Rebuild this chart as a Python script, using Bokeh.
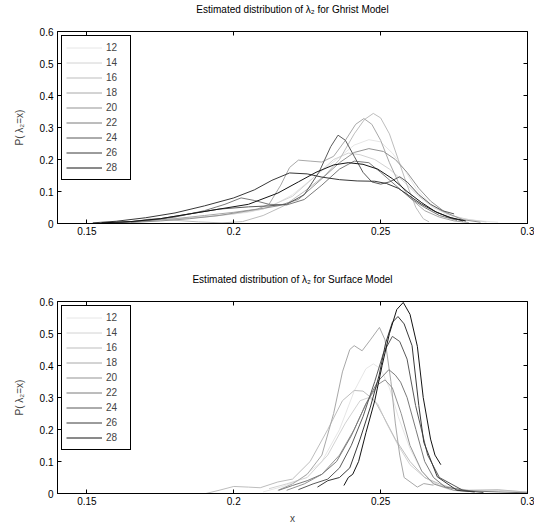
from bokeh.plotting import figure
from bokeh.layouts import column
from bokeh.models import Range1d, LinearAxis, FixedTicker, CustomJSTickFormatter
from bokeh.embed import file_html
from bokeh.resources import INLINE

# ---------------- data ----------------
labels = ["12", "14", "16", "18", "20", "22", "24", "26", "28"]
x_ticks = [0.15, 0.2, 0.25, 0.3]
y_ticks = [0, 0.1, 0.2, 0.3, 0.4, 0.5, 0.6]

# Ghrist model
g12_x = [0.155, 0.165, 0.175, 0.185, 0.195, 0.205, 0.212, 0.22, 0.228, 0.235, 0.241, 0.246, 0.25, 0.254, 0.258, 0.262, 0.267, 0.272, 0.278, 0.284, 0.29]
g12_y = [0.002, 0.006, 0.012, 0.018, 0.025, 0.035, 0.05, 0.09, 0.15, 0.2, 0.245, 0.262, 0.255, 0.22, 0.17, 0.11, 0.06, 0.03, 0.015, 0.008, 0.004]
g14_x = [0.16, 0.17, 0.18, 0.19, 0.2, 0.21, 0.22, 0.228, 0.234, 0.239, 0.243, 0.248, 0.253, 0.258, 0.263, 0.268, 0.274, 0.28, 0.286]
g14_y = [0.003, 0.008, 0.014, 0.02, 0.03, 0.045, 0.085, 0.15, 0.2, 0.22, 0.215, 0.2, 0.17, 0.13, 0.085, 0.05, 0.025, 0.012, 0.005]
g16_x = [0.165, 0.172, 0.18, 0.188, 0.196, 0.203, 0.21, 0.217, 0.224, 0.231, 0.236, 0.241, 0.2445, 0.2475, 0.25, 0.253, 0.256, 0.259, 0.262, 0.2645, 0.2665]
g16_y = [0.005, 0.015, 0.01, 0.005, 0.002, 0.006, 0.025, 0.055, 0.1, 0.15, 0.2, 0.28, 0.325, 0.344, 0.33, 0.28, 0.2, 0.12, 0.05, 0.015, 0.005]
g18_x = [0.16, 0.17, 0.18, 0.19, 0.2, 0.208, 0.212, 0.216, 0.219, 0.222, 0.226, 0.23, 0.234, 0.238, 0.2415, 0.2443, 0.247, 0.25, 0.253, 0.256, 0.26, 0.265, 0.27, 0.275, 0.28]
g18_y = [0.003, 0.008, 0.015, 0.025, 0.035, 0.045, 0.06, 0.12, 0.175, 0.198, 0.195, 0.192, 0.21, 0.26, 0.31, 0.328, 0.31, 0.26, 0.19, 0.13, 0.08, 0.04, 0.02, 0.008, 0.003]
g20_x = [0.165, 0.175, 0.185, 0.195, 0.205, 0.215, 0.222, 0.23, 0.236, 0.241, 0.246, 0.251, 0.255, 0.259, 0.263, 0.267, 0.272, 0.278, 0.284]
g20_y = [0.003, 0.008, 0.015, 0.025, 0.04, 0.055, 0.075, 0.14, 0.19, 0.222, 0.234, 0.225, 0.2, 0.16, 0.11, 0.07, 0.035, 0.012, 0.004]
g22_x = [0.16, 0.17, 0.18, 0.19, 0.197, 0.2025, 0.207, 0.212, 0.218, 0.224, 0.23, 0.236, 0.241, 0.246, 0.25, 0.255, 0.26, 0.265, 0.27, 0.276]
g22_y = [0.002, 0.008, 0.02, 0.04, 0.06, 0.08, 0.072, 0.06, 0.058, 0.075, 0.12, 0.17, 0.195, 0.19, 0.16, 0.12, 0.08, 0.05, 0.025, 0.01]
g24_x = [0.155, 0.165, 0.175, 0.185, 0.195, 0.205, 0.212, 0.218, 0.224, 0.229, 0.233, 0.2355, 0.238, 0.241, 0.244, 0.247, 0.25, 0.253, 0.2565, 0.259, 0.263, 0.267, 0.271, 0.275]
g24_y = [0.002, 0.006, 0.015, 0.03, 0.045, 0.052, 0.055, 0.06, 0.09, 0.16, 0.24, 0.276, 0.26, 0.21, 0.16, 0.13, 0.123, 0.13, 0.146, 0.13, 0.09, 0.06, 0.04, 0.03]
g26_x = [0.152, 0.16, 0.17, 0.18, 0.19, 0.2, 0.207, 0.213, 0.219, 0.225, 0.23, 0.236, 0.242, 0.248, 0.252, 0.256, 0.26, 0.264, 0.268, 0.273, 0.278]
g26_y = [0.002, 0.007, 0.018, 0.033, 0.055, 0.08, 0.105, 0.135, 0.158, 0.155, 0.145, 0.137, 0.133, 0.132, 0.125, 0.11, 0.085, 0.06, 0.04, 0.02, 0.008]
g28_x = [0.155, 0.165, 0.175, 0.185, 0.195, 0.205, 0.215, 0.222, 0.228, 0.234, 0.239, 0.244, 0.249, 0.254, 0.259, 0.264, 0.269, 0.274, 0.279]
g28_y = [0.002, 0.006, 0.015, 0.03, 0.045, 0.06, 0.095, 0.13, 0.16, 0.183, 0.19, 0.185, 0.17, 0.14, 0.1, 0.065, 0.035, 0.018, 0.008]

# Surface model
s12_x = [0.21, 0.216, 0.222, 0.23, 0.236, 0.241, 0.245, 0.2475, 0.25, 0.253, 0.256, 0.26, 0.264, 0.268, 0.274, 0.28]
s12_y = [0.005, 0.02, 0.04, 0.1, 0.2, 0.32, 0.39, 0.405, 0.39, 0.33, 0.24, 0.14, 0.07, 0.03, 0.01, 0.005]
s14_x = [0.212, 0.218, 0.225, 0.232, 0.238, 0.243, 0.246, 0.249, 0.252, 0.256, 0.26, 0.265, 0.27, 0.28, 0.29, 0.3]
s14_y = [0.015, 0.03, 0.05, 0.12, 0.22, 0.29, 0.3, 0.28, 0.22, 0.15, 0.09, 0.05, 0.025, 0.01, 0.01, 0.005]
s16_x = [0.1905, 0.195, 0.2, 0.205, 0.209, 0.215, 0.22, 0.226, 0.232, 0.237, 0.241, 0.244, 0.248, 0.251, 0.255, 0.26, 0.265, 0.27, 0.275, 0.28, 0.29, 0.295, 0.3]
s16_y = [0.0, 0.01, 0.022, 0.02, 0.018, 0.036, 0.045, 0.1, 0.2, 0.29, 0.322, 0.32, 0.29, 0.24, 0.17, 0.1, 0.05, 0.03, 0.015, 0.01, 0.012, 0.008, 0.004]
s18_x = [0.215, 0.22, 0.225, 0.23, 0.234, 0.237, 0.2395, 0.241, 0.2437, 0.2465, 0.2496, 0.2515, 0.2535, 0.255, 0.2565, 0.258, 0.2625, 0.2647, 0.268]
s18_y = [0.01, 0.03, 0.06, 0.12, 0.25, 0.38, 0.45, 0.462, 0.446, 0.48, 0.519, 0.48, 0.35, 0.22, 0.12, 0.05, 0.02, 0.031, 0.026]
s20_x = [0.218, 0.224, 0.23, 0.236, 0.241, 0.245, 0.249, 0.2515, 0.254, 0.257, 0.26, 0.264, 0.268, 0.275, 0.282]
s20_y = [0.01, 0.03, 0.06, 0.12, 0.2, 0.28, 0.34, 0.355, 0.33, 0.25, 0.15, 0.07, 0.03, 0.01, 0.005]
s22_x = [0.2153, 0.22, 0.225, 0.23, 0.235, 0.24, 0.245, 0.249, 0.2528, 0.255, 0.2568, 0.259, 0.262, 0.265, 0.268, 0.272, 0.28, 0.29, 0.3]
s22_y = [0.01, 0.025, 0.04, 0.06, 0.1, 0.18, 0.28, 0.35, 0.387, 0.37, 0.348, 0.3, 0.2, 0.1, 0.05, 0.02, 0.008, 0.005, 0.002]
s24_x = [0.222, 0.227, 0.232, 0.236, 0.24, 0.244, 0.248, 0.251, 0.254, 0.2565, 0.259, 0.2619, 0.266, 0.27, 0.278, 0.285]
s24_y = [0.012, 0.03, 0.045, 0.08, 0.15, 0.24, 0.35, 0.44, 0.491, 0.475, 0.42, 0.275, 0.12, 0.05, 0.01, 0.003]
s26_x = [0.2285, 0.232, 0.236, 0.2395, 0.243, 0.2465, 0.2495, 0.2517, 0.254, 0.2559, 0.258, 0.2607, 0.263, 0.2647, 0.2693, 0.276, 0.282]
s26_y = [0.02, 0.04, 0.05, 0.08, 0.17, 0.27, 0.37, 0.47, 0.535, 0.553, 0.53, 0.462, 0.275, 0.16, 0.052, 0.01, 0.005]
s28_x = [0.2375, 0.239, 0.2405, 0.2425, 0.245, 0.248, 0.2505, 0.253, 0.2555, 0.2577, 0.26, 0.2625, 0.2645, 0.267, 0.2685, 0.2705]
s28_y = [0.025, 0.05, 0.06, 0.1, 0.19, 0.29, 0.4, 0.5, 0.575, 0.597, 0.56, 0.46, 0.3, 0.17, 0.12, 0.09]

ghrist_series = [(g12_x, g12_y), (g14_x, g14_y), (g16_x, g16_y), (g18_x, g18_y), (g20_x, g20_y),
                 (g22_x, g22_y), (g24_x, g24_y), (g26_x, g26_y), (g28_x, g28_y)]
surface_series = [(s12_x, s12_y), (s14_x, s14_y), (s16_x, s16_y), (s18_x, s18_y), (s20_x, s20_y),
                  (s22_x, s22_y), (s24_x, s24_y), (s26_x, s26_y), (s28_x, s28_y)]

# ---------------- style ----------------
FONT = "Liberation Sans"
grays = ["#e6e6e6", "#d2d2d2", "#bdbdbd", "#a8a8a8", "#939393", "#7a7a7a", "#595959", "#383838", "#141414"]


def make_fig(title, series, height, b_top, b_bottom, xlabel=None):
    p = figure(width=534, height=height, output_backend="svg", toolbar_location=None,
               x_range=Range1d(0.14, 0.3), y_range=Range1d(0, 0.6),
               min_border_left=57, min_border_right=7, min_border_top=b_top,
               min_border_bottom=b_bottom)
    p.grid.visible = False
    p.outline_line_color = "black"
    p.outline_line_width = 1
    p.background_fill_color = "white"
    p.border_fill_color = "white"

    fmt = CustomJSTickFormatter(code="return String(Math.round(tick*100)/100);")
    for ax, ticks in ((p.xaxis[0], x_ticks), (p.yaxis[0], y_ticks)):
        ax.ticker = FixedTicker(ticks=ticks)
        ax.formatter = fmt
        ax.major_tick_in = 4
        ax.major_tick_out = 0
        ax.minor_tick_line_color = None
        ax.major_label_text_font = FONT
        ax.major_label_text_font_size = "10px"
        ax.major_label_text_color = "black"
        ax.axis_line_color = "black"
        ax.major_tick_line_color = "black"
        ax.axis_label_text_font = FONT
        ax.axis_label_text_font_size = "10px"
        ax.axis_label_text_font_style = "normal"
    p.xaxis[0].major_label_standoff = 3
    p.yaxis[0].major_label_standoff = 4
    p.yaxis[0].axis_label = "P( λ₂=x)"
    p.yaxis[0].axis_label_standoff = 12
    if xlabel:
        p.xaxis[0].axis_label = xlabel
        p.xaxis[0].axis_label_standoff = 5

    blank = CustomJSTickFormatter(code="return '';")
    # top axis carries the title as its axis label (centred over the frame)
    top = LinearAxis(ticker=FixedTicker(ticks=x_ticks), formatter=blank, major_tick_in=4,
                     major_tick_out=0, minor_tick_line_color=None, axis_line_color=None,
                     major_label_standoff=0, major_tick_line_color="black",
                     axis_label=title, axis_label_standoff=17,
                     axis_label_text_font=FONT, axis_label_text_font_size="10px",
                     axis_label_text_font_style="normal", axis_label_text_color="black")
    right = LinearAxis(ticker=FixedTicker(ticks=y_ticks), formatter=blank, major_tick_in=4,
                       major_tick_out=0, minor_tick_line_color=None, axis_line_color=None,
                       major_label_standoff=0, major_tick_line_color="black")
    p.add_layout(top, "above")
    p.add_layout(right, "right")

    for (xs, ys), lab, col in zip(series, labels, grays):
        p.line(xs, ys, line_color=col, line_width=1, legend_label=lab)

    lg = p.legend[0]
    lg.location = "top_left"
    lg.margin = 4
    lg.padding = 4
    lg.spacing = 0
    lg.glyph_width = 36
    lg.glyph_height = 15
    lg.label_height = 15
    lg.label_standoff = 4
    lg.label_text_font = FONT
    lg.label_text_font_size = "10px"
    lg.border_line_color = "black"
    lg.border_line_alpha = 1
    lg.border_line_width = 1
    lg.background_fill_alpha = 1
    return p


p1 = make_fig("Estimated distribution of λ₂ for Ghrist Model", ghrist_series, 262, 31, 39)
p2 = make_fig("Estimated distribution of λ₂ for Surface Model", surface_series, 264, 39, 33, xlabel="x")

layout = column(p1, p2, spacing=0)
open("out.html", "w").write(file_html(layout, INLINE))
